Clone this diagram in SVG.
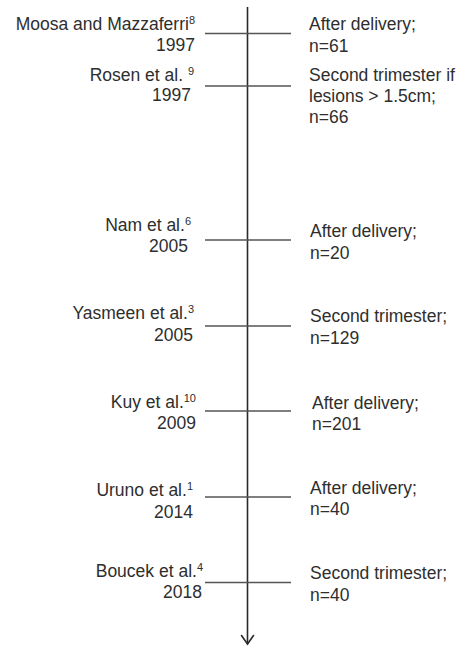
<svg xmlns="http://www.w3.org/2000/svg" width="466" height="648" viewBox="0 0 466 648">
<style>
text{font-family:"Liberation Sans",Arial,sans-serif;font-size:17.5px;fill:#2e2e2e}
.l{text-anchor:end}
.s{font-size:11px}
.tick{stroke:#555;stroke-width:1.6;fill:none}
.axis{stroke:#2a2a2a;stroke-width:1.6;fill:none}
</style>
<g id="connectors">
<line class="axis" x1="247.5" y1="7" x2="247.5" y2="644"/>
<polyline class="axis" points="241.5,635.5 247.5,644 253.5,635.5" stroke-width="2.8" stroke-linecap="round" stroke-linejoin="miter"/>
</g>
<g id="n1">
<line class="tick" x1="205" y1="33.5" x2="291" y2="33.5"/>
<text class="l" x="195" y="30">Moosa and Mazzaferri<tspan class="s" dy="-6">8</tspan></text>
<text class="l" x="195" y="51">1997</text>
<text x="309" y="30">After delivery;</text>
<text x="309" y="51.5">n=61</text>
</g>
<g id="n2">
<line class="tick" x1="205" y1="86" x2="291" y2="86"/>
<text class="l" x="194" y="81">Rosen et al. <tspan class="s" dy="-6">9</tspan></text>
<text class="l" x="191" y="101">1997</text>
<text x="309" y="81">Second trimester if</text>
<text x="309" y="102">lesions &gt; 1.5cm;</text>
<text x="309" y="123">n=66</text>
</g>
<g id="n3">
<line class="tick" x1="205" y1="240" x2="291" y2="240"/>
<text class="l" x="191" y="231">Nam et al.<tspan class="s" dy="-6">6</tspan></text>
<text class="l" x="188" y="252">2005</text>
<text x="310" y="237">After delivery;</text>
<text x="310" y="259">n=20</text>
</g>
<g id="n4">
<line class="tick" x1="205" y1="326" x2="291" y2="326"/>
<text class="l" x="194" y="319">Yasmeen et al.<tspan class="s" dy="-6">3</tspan></text>
<text class="l" x="193" y="341">2005</text>
<text x="310" y="322">Second trimester;</text>
<text x="310" y="344">n=129</text>
</g>
<g id="n5">
<line class="tick" x1="205" y1="411" x2="291" y2="411"/>
<text class="l" x="196" y="408">Kuy et al.<tspan class="s" dy="-6">10</tspan></text>
<text class="l" x="196" y="429">2009</text>
<text x="312" y="409">After delivery;</text>
<text x="312" y="430">n=201</text>
</g>
<g id="n6">
<line class="tick" x1="205" y1="497" x2="291" y2="497"/>
<text class="l" x="193" y="496">Uruno et al.<tspan class="s" dy="-6">1</tspan></text>
<text class="l" x="193" y="518">2014</text>
<text x="310" y="494">After delivery;</text>
<text x="310" y="515">n=40</text>
</g>
<g id="n7">
<line class="tick" x1="205" y1="582.5" x2="291" y2="582.5"/>
<text class="l" x="203" y="577">Boucek et al.<tspan class="s" dy="-6">4</tspan></text>
<text class="l" x="202" y="598">2018</text>
<text x="310" y="579">Second trimester;</text>
<text x="310" y="601">n=40</text>
</g>
</svg>
